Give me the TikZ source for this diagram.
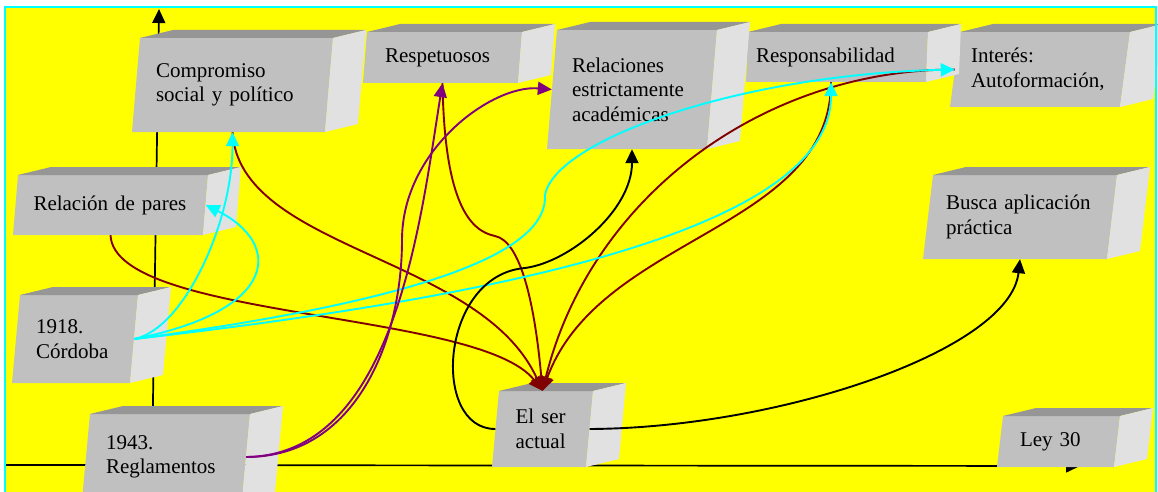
\documentclass[tikz,border=0pt]{standalone}
\usepackage{fontspec}
\setmainfont{Liberation Serif}
\usetikzlibrary{arrows.meta}
\definecolor{yellow}{RGB}{255, 255, 0}
\definecolor{cyan}{RGB}{0, 255, 255}
\definecolor{maroon}{RGB}{128, 0, 0}
\definecolor{purple}{RGB}{128, 0, 128}
\definecolor{facefront}{RGB}{192, 192, 192}
\definecolor{facetop}{RGB}{150, 150, 150}
\definecolor{faceside}{RGB}{225, 225, 225}
\hyphenpenalty=10000
\tikzset{%
    pics/block/.style n args={3}{%
        code={%
            \fill[facefront] (0, 0) -- (#1, 0) -- (#1-#3, #2) -- (-#3, #2) -- cycle;
            \fill[facetop] (0, 0) -- (33, -8) -- (#1+33, -8) -- (#1, 0) -- cycle;
            \fill[faceside] (#1, 0) -- (#1+33, -8) -- (#1+33-#3, #2-8) -- (#1-#3, #2) -- cycle;
        }
    }
}
\tikzset{%
    blocktext/.style={%
        inner xsep=20pt,
        inner ysep=0pt,
        align=left,
        font=\fontsize{21}{24.5}\selectfont
    },
    link/.style={->, line width=1.9pt},
    axis/.style={->, line width=1.7pt},
    >={Triangle[length=14pt, width=13pt]}
}

\begin{document}
\begin{tikzpicture}[x=1pt, y=-1pt]
    \useasboundingbox (0, 0) rectangle (1158, 492);

    % Background
    \fill[yellow] (5, 7) rectangle (1156, 500);

    % Axes
    \coordinate (origin) at (152, 465);
    \coordinate (yend) at (159, 9);
    \coordinate (xstart) at (5, 465);
    \coordinate (xend) at (1080, 466);
    \draw[axis] (origin) -- (yend);
    \draw[axis] (xstart) -- (xend);

    % Top row
    \path (960, 32) pic {block={170}{75}{10}}
          (748, 32) pic {block={180}{50}{2}}
          (557, 30) pic {block={160}{119}{10}}
          (367, 32) pic {block={155}{51}{4}}
          (140, 38) pic {block={193}{94}{8}};

    \node[blocktext, text width=153pt, minimum height=94pt] (compromiso)
        at (232.5, 85) {Compromiso\\social y político};
    \node[blocktext, text width=115pt, minimum height=51pt] (respetuosos)
        at (442.5, 57.5) {Respetuosos};
    \node[blocktext, text width=120pt, minimum height=119pt] (relaciones)
        at (632, 89.5) {Relaciones\\estrictamente\\académicas};
    \node[blocktext, inner xsep=9pt, text width=162pt, minimum height=50pt] (responsabilidad)
        at (837, 57) {Responsabilidad};
    \node[blocktext, inner xsep=16pt, text width=138pt, minimum height=75pt] (interes)
        at (1040, 69.5) {Interés:\\Autoformación,};

    % Left column
    \path (18, 175) pic {block={190}{60}{5}}
          (20, 295) pic {block={118}{88}{8}}
          (90, 414) pic {block={160}{86}{8}};

    \node[blocktext, inner xsep=18pt, text width=154pt, minimum height=60pt] (pares)
        at (110.5, 205) {Relación de pares};
    \node[blocktext, text width=78pt, minimum height=88pt] (cordoba)
        at (75, 339) {1918.\\Córdoba};
    \node[blocktext, text width=120pt, minimum height=86pt] (reglamentos)
        at (166, 457) {1943.\\Reglamentos};

    % Right side and bottom
    \path (933, 175) pic {block={184}{84}{10}}
          (499, 391) pic {block={94}{76}{7}}
          (1003, 416) pic {block={117}{51}{6}};

    \node[blocktext, inner xsep=18pt, text width=148pt, minimum height=84pt] (busca)
        at (1020, 217) {Busca aplicación\\práctica};
    \node[blocktext, text width=54pt, minimum height=76pt] (ser)
        at (542.5, 429) {El ser\\actual};
    \node[blocktext, text width=77pt, minimum height=51pt] (ley)
        at (1058.5, 441.5) {Ley 30};

    % Frame
    \draw[cyan, line width=2pt] (5, 500) -- (5, 7) -- (1156, 7) -- (1156, 500);

    % Into the present
    \draw[link, maroon] (pares.south)
        .. controls +(4, 85) and +(-63, -81) .. (ser.north);
    \draw[link, maroon] (compromiso.south)
        .. controls +(7, 118) and +(-62, -136) .. (ser.north);
    \draw[link, maroon] (respetuosos.south)
        .. controls +(2, 120) and +(-25, -5) .. (495, 236)
        .. controls +(25, 5) and +(-8, -90) .. (ser.north);
    \draw[link, maroon] (interes.west)
        .. controls +(-195, 0) and +(47, -191) .. (ser.north);
    \draw[link, maroon] ([xshift=-6pt] responsabilidad.south)
        .. controls +(0, 148) and +(57, -156) .. (ser.north);

    % From 1918
    \draw[link, cyan] (cordoba.east)
        .. controls +(50, -10) and +(0, 90) .. (compromiso.south);
    \draw[link, cyan] (cordoba.east)
        .. controls +(147, -29) and +(76, 38) .. (pares.east);
    \draw[link, cyan] (cordoba.east)
        .. controls +(300, -40) and +(3, 55) .. (545, 195)
        .. controls +(10, -55) and +(-215, 5) .. (interes.west);
    \draw[link, cyan] (cordoba.east)
        .. controls +(350, -40) and +(0, 150) .. ([xshift=-6pt] responsabilidad.south);

    % From 1943
    \draw[link, purple] (reglamentos.east)
        .. controls +(149, -2) and +(-22, 137) .. (respetuosos.south);
    \draw[link, purple] (reglamentos.east)
        .. controls +(110, 0) and +(0, 100) .. (402, 240)
        .. controls +(0, -90) and +(-60, -5) .. (relaciones.west);

    % Out of the present
    \draw[link, black] (ser.west)
        .. controls +(-65, 0) and +(-85, 7) .. (525, 268)
        .. controls +(45, -6) and +(0, 61) .. (relaciones.south);
    \draw[link, black] (ser.east)
        .. controls +(190, -1) and +(-10, 91) .. (busca.south);

\end{tikzpicture}
\end{document}
